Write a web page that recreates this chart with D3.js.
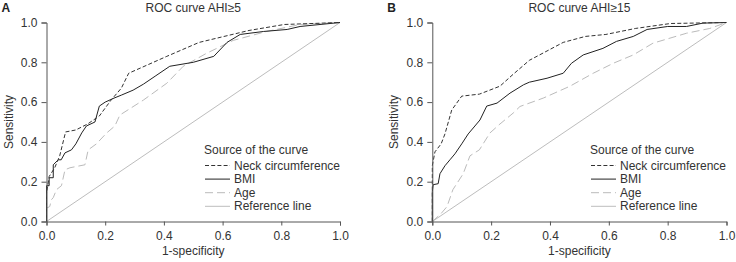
<!DOCTYPE html>
<html><head><meta charset="utf-8">
<script src="https://cdn.jsdelivr.net/npm/d3@7"></script>
<style>body{margin:0;background:#fff}svg{display:block}text{font-family:"Liberation Sans",Arial,sans-serif}</style>
</head><body><svg id="c" width="736" height="262"></svg>
<script>
const ticks = [0, 0.2, 0.4, 0.6, 0.8, 1.0];
const legendLabels = ["Neck circumference", "BMI", "Age", "Reference line"];

// Panel A: AHI>=5  [1-specificity, sensitivity]
const neckA = [[0,0],[0,0.14],[0.009,0.226],[0.028,0.27],[0.045,0.33],[0.065,0.45],[0.10,0.46],[0.14,0.49],[0.18,0.53],[0.22,0.61],[0.255,0.67],[0.28,0.745],[0.41,0.83],[0.52,0.90],[0.69,0.96],[0.81,0.99],[1,1]];
const bmiA = [[0,0],[0,0.18],[0.009,0.18],[0.009,0.22],[0.023,0.22],[0.023,0.285],[0.04,0.31],[0.05,0.31],[0.063,0.345],[0.085,0.36],[0.1,0.39],[0.12,0.445],[0.136,0.48],[0.165,0.50],[0.18,0.58],[0.2,0.60],[0.23,0.62],[0.255,0.635],[0.295,0.66],[0.33,0.69],[0.37,0.73],[0.42,0.78],[0.5,0.80],[0.57,0.83],[0.615,0.90],[0.66,0.94],[0.74,0.955],[0.82,0.965],[0.864,0.98],[1,1]];
const ageA = [[0,0],[0,0.067],[0.011,0.075],[0.017,0.11],[0.023,0.12],[0.034,0.16],[0.051,0.18],[0.063,0.26],[0.08,0.27],[0.131,0.285],[0.142,0.36],[0.17,0.39],[0.205,0.445],[0.233,0.48],[0.25,0.535],[0.33,0.61],[0.41,0.695],[0.466,0.78],[0.545,0.845],[0.636,0.91],[0.75,0.955],[0.864,0.99],[1,1]];

// Panel B: AHI>=15
const neckB = [[0,0],[0,0.28],[0.009,0.35],[0.03,0.39],[0.043,0.44],[0.066,0.56],[0.10,0.63],[0.16,0.64],[0.23,0.68],[0.275,0.74],[0.33,0.81],[0.445,0.90],[0.52,0.93],[0.59,0.94],[0.69,0.97],[0.81,0.995],[1,1]];
const bmiB = [[0,0],[0,0.15],[0.003,0.185],[0.02,0.19],[0.026,0.24],[0.043,0.28],[0.06,0.31],[0.077,0.34],[0.10,0.39],[0.122,0.44],[0.162,0.51],[0.185,0.58],[0.22,0.595],[0.264,0.645],[0.31,0.687],[0.33,0.70],[0.39,0.72],[0.445,0.745],[0.473,0.795],[0.513,0.837],[0.58,0.87],[0.626,0.905],[0.683,0.93],[0.73,0.965],[0.8,0.98],[0.864,0.98],[0.92,0.997],[1,1]];
const ageB = [[0,0],[0.03,0.04],[0.05,0.075],[0.07,0.16],[0.105,0.24],[0.128,0.33],[0.16,0.36],[0.196,0.445],[0.23,0.49],[0.275,0.545],[0.298,0.578],[0.377,0.62],[0.468,0.68],[0.547,0.745],[0.615,0.795],[0.683,0.837],[0.75,0.896],[0.864,0.946],[0.943,0.97],[1,1]];
const refLine = [[0,0],[1,1]];

const panels = [
  {letter:"A", title:"ROC curve AHI\u22655", x0:46.5, x1:340, neck:neckA, bmi:bmiA, age:ageA, legX:204},
  {letter:"B", title:"ROC curve AHI\u226515", x0:432.3, x1:726.5, neck:neckB, bmi:bmiB, age:ageB, legX:590}
];
const styles = [
  {key:"neck", stroke:"#333", dash:"4,2.2", w:1},
  {key:"bmi", stroke:"#222", dash:null, w:1},
  {key:"age", stroke:"#bbb", dash:"8,4", w:1},
  {key:"ref", stroke:"#bdbdbd", dash:null, w:1}
];
const svg = d3.select("#c");
const yTop = 22.5, yBot = 221.5;
const FS = 12;

panels.forEach((p, pi) => {
  const x = d3.scaleLinear().domain([0,1]).range([p.x0, p.x1]);
  const y = d3.scaleLinear().domain([0,1]).range([yBot, yTop]);
  const g = svg.append("g");
  const line = d3.line().x(d => x(d[0])).y(d => y(d[1]));
  const data = {neck:p.neck, bmi:p.bmi, age:p.age, ref:refLine};
  ["ref","age","bmi","neck"].forEach(k => {
    const s = styles.find(t => t.key === k);
    g.append("path").datum(data[k]).attr("d", line).attr("fill","none")
      .attr("stroke", s.stroke).attr("stroke-width", s.w)
      .attr("stroke-dasharray", s.dash);
  });
  const xa = g.append("g").attr("transform", `translate(0,${yBot})`)
    .call(d3.axisBottom(x).tickValues(ticks).tickFormat(d3.format(".1f")).tickSize(4).tickPadding(6));
  const ya = g.append("g").attr("transform", `translate(${p.x0},0)`)
    .call(d3.axisLeft(y).tickValues(ticks).tickFormat(d3.format(".1f")).tickSize(5).tickPadding(4));
  [xa, ya].forEach(a => {
    a.select(".domain").attr("stroke","#555");
    a.selectAll(".tick line").attr("stroke","#555");
    a.selectAll("text").attr("font-size", FS).attr("fill","#333")
      .attr("font-family","Liberation Sans, Arial, sans-serif");
  });
  const cx = (p.x0 + p.x1) / 2;
  g.append("text").attr("x", cx).attr("y", 12).attr("text-anchor","middle")
    .attr("font-size", FS).attr("fill","#333").text(p.title);
  g.append("text").attr("x", p.x0 - 45).attr("y", 12)
    .attr("font-size", 12).attr("font-weight","bold").attr("fill","#222").text(p.letter);
  g.append("text").attr("x", cx).attr("y", 255).attr("text-anchor","middle")
    .attr("font-size", FS).attr("fill","#333").text("1-specificity");
  g.append("text").attr("transform", `translate(${p.x0 - 34},${(yTop+yBot)/2}) rotate(-90)`)
    .attr("text-anchor","middle").attr("font-size", FS).attr("fill","#333").text("Sensitivity");
  // legend
  const lg = g.append("g").attr("transform", `translate(${p.legX},0)`);
  lg.append("text").attr("x", 0).attr("y", 154).attr("font-size", FS).attr("fill","#333").text("Source of the curve");
  legendLabels.forEach((lab, i) => {
    const s = styles[i];
    const yy = 165.5 + i * 13.6;
    lg.append("line").attr("x1", 1).attr("x2", 26).attr("y1", yy).attr("y2", yy)
      .attr("stroke", s.stroke).attr("stroke-width", s.w).attr("stroke-dasharray", s.dash);
    lg.append("text").attr("x", 30).attr("y", yy + 4).attr("font-size", FS).attr("fill","#333").text(lab);
  });
});
</script></body></html>
